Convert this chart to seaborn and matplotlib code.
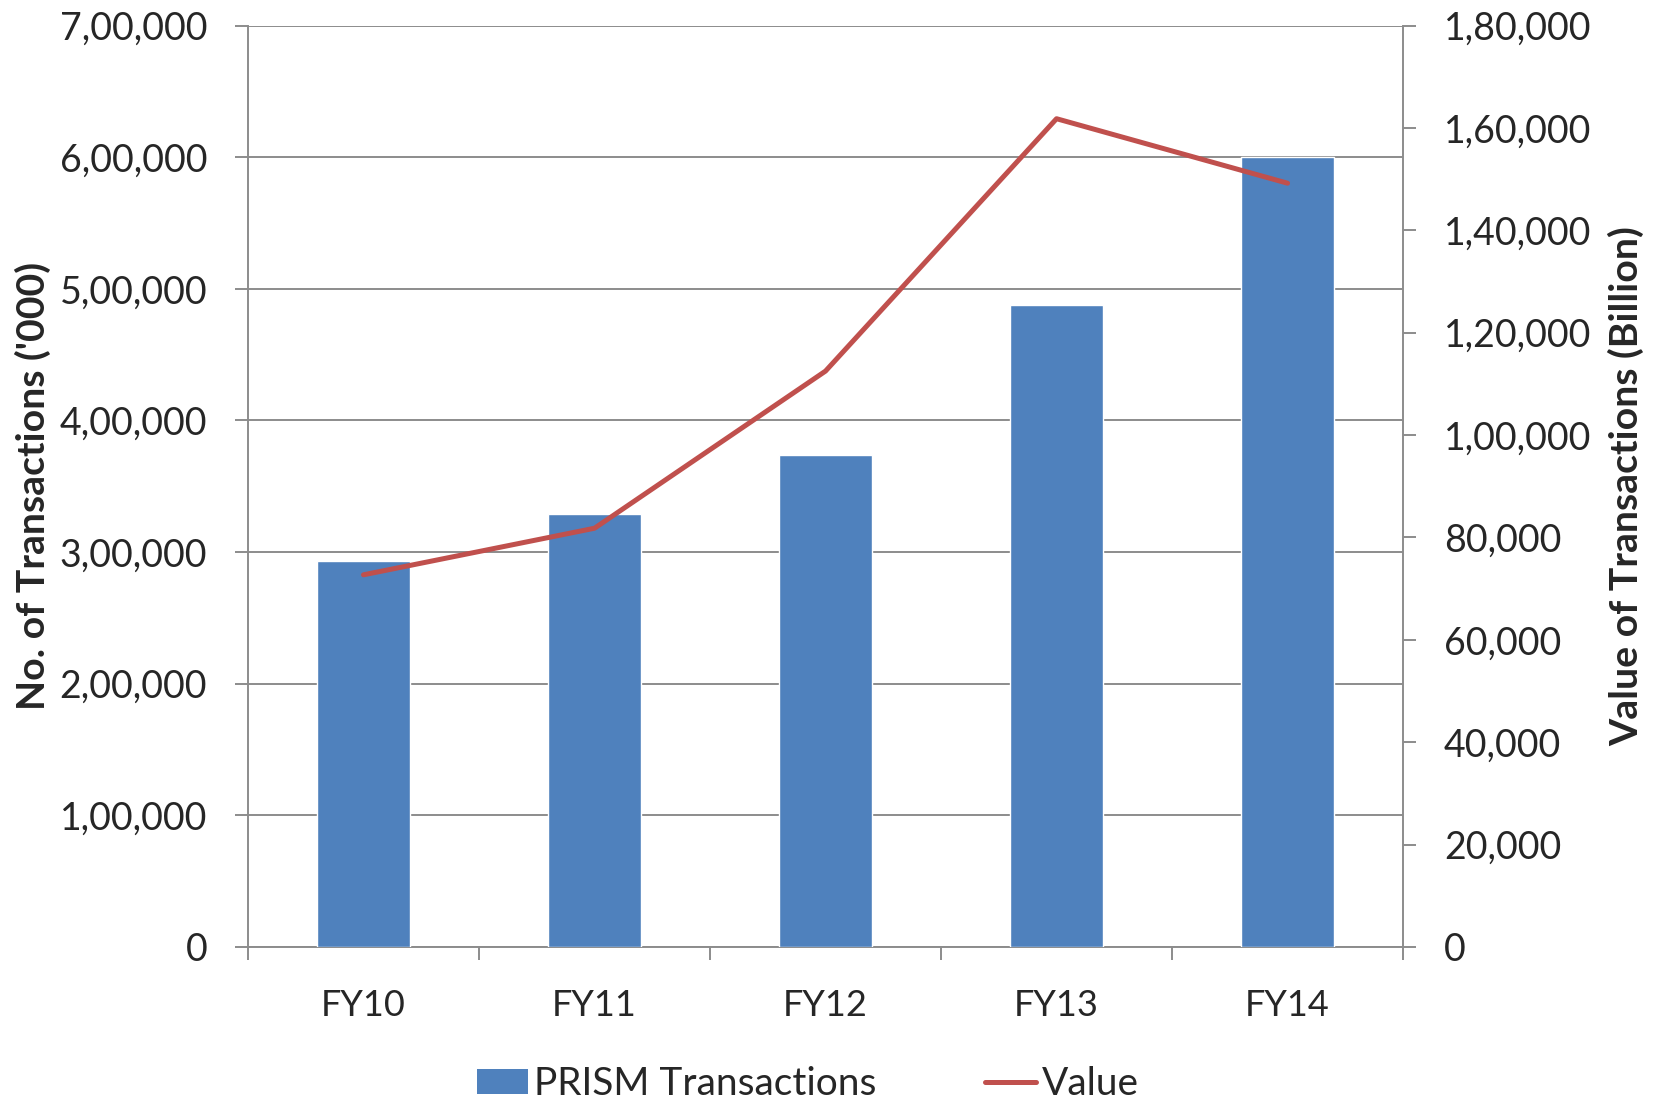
import numpy as np
import pandas as pd
import matplotlib
matplotlib.use("Agg")
import matplotlib.pyplot as plt
from matplotlib.patches import Patch
from matplotlib.lines import Line2D
from matplotlib.ticker import FixedLocator, FuncFormatter
import seaborn as sns

# Data
years = ["FY10", "FY11", "FY12", "FY13", "FY14"]
prism_transactions = [293300, 328800, 374100, 487600, 600000]   # '000
transaction_value = [72700, 81800, 112500, 161800, 149200]       # Billion

BAR_COLOR = "#4F81BD"
LINE_COLOR = "#C0504D"
GRID_COLOR = "#8C8C8C"

sns.set_theme(style="white")
plt.rcParams["font.family"] = ["Lato", "DejaVu Sans"]


def indian_format(v, _pos=None):
    v = int(round(v))
    s = str(v)
    if len(s) <= 3:
        return s
    head, tail = s[:-3], s[-3:]
    parts = []
    while len(head) > 2:
        parts.insert(0, head[-2:])
        head = head[:-2]
    if head:
        parts.insert(0, head)
    return ",".join(parts + [tail])


df = pd.DataFrame({"year": years, "count": prism_transactions, "value": transaction_value})

fig = plt.figure(figsize=(16.62, 11.01), dpi=100)
ax = fig.add_axes([0.1492, 0.1399, 0.8442 - 0.1492, 0.9768 - 0.1399])

sns.barplot(data=df, x="year", y="count", color=BAR_COLOR, width=0.4,
            saturation=1, ax=ax, zorder=3)
ax.set_xlim(-0.5, len(years) - 0.5)
ax.set_ylim(0, 700000)
ax.yaxis.set_major_locator(FixedLocator(np.arange(0, 700001, 100000)))
ax.yaxis.set_major_formatter(FuncFormatter(indian_format))
ax.grid(axis="y", color=GRID_COLOR, linewidth=1.4, zorder=0)
ax.set_axisbelow(True)

# Category boundary ticks on the x axis
ax.xaxis.set_minor_locator(FixedLocator(np.arange(-0.5, len(years), 1.0)))
ax.tick_params(axis="x", which="major", length=0, pad=30, labelsize=26)
ax.tick_params(axis="x", which="minor", length=9.4, width=1.4, color=GRID_COLOR, direction="out", bottom=True)
ax.tick_params(axis="y", which="major", length=9.4, width=1.4, color=GRID_COLOR, direction="out",
               left=True, pad=20, labelsize=27)
ax.set_xlabel("")
ax.set_ylabel("No. of Transactions ('000)", fontsize=28.3, fontweight="bold", labelpad=6)

for side in ["top", "right"]:
    ax.spines[side].set_visible(False)
for side in ["left", "bottom"]:
    ax.spines[side].set_color(GRID_COLOR)
    ax.spines[side].set_linewidth(1.4)

ax2 = ax.twinx()
sns.lineplot(x=np.arange(len(years)), y=transaction_value, color=LINE_COLOR, linewidth=3.6,
             ax=ax2, zorder=4)
ax2.set_ylim(0, 180000)
ax2.yaxis.set_major_locator(FixedLocator(np.arange(0, 180001, 20000)))
ax2.yaxis.set_major_formatter(FuncFormatter(indian_format))
ax2.tick_params(axis="y", which="major", length=9.4, width=1.4, color=GRID_COLOR, direction="out",
                right=True, pad=20, labelsize=27)
ax2.set_ylabel("Value of Transactions (Billion)", fontsize=28.3, fontweight="bold", labelpad=12)
for side in ["top", "left", "bottom"]:
    ax2.spines[side].set_visible(False)
ax2.spines["right"].set_color(GRID_COLOR)
ax2.spines["right"].set_linewidth(1.4)
ax2.grid(False)

handles = [Patch(facecolor=BAR_COLOR, edgecolor="none"),
           Line2D([0], [0], color=LINE_COLOR, linewidth=3.6)]
fig.legend(handles, ["PRISM Transactions", "Value"], loc="center",
           bbox_to_anchor=(0.486, 0.0154), ncol=2, frameon=False, fontsize=28,
           handlelength=1.31, handleheight=0.6, handletextpad=0.15, columnspacing=2.8,
           borderpad=0.2)

fig.savefig("out.png", dpi=100)
